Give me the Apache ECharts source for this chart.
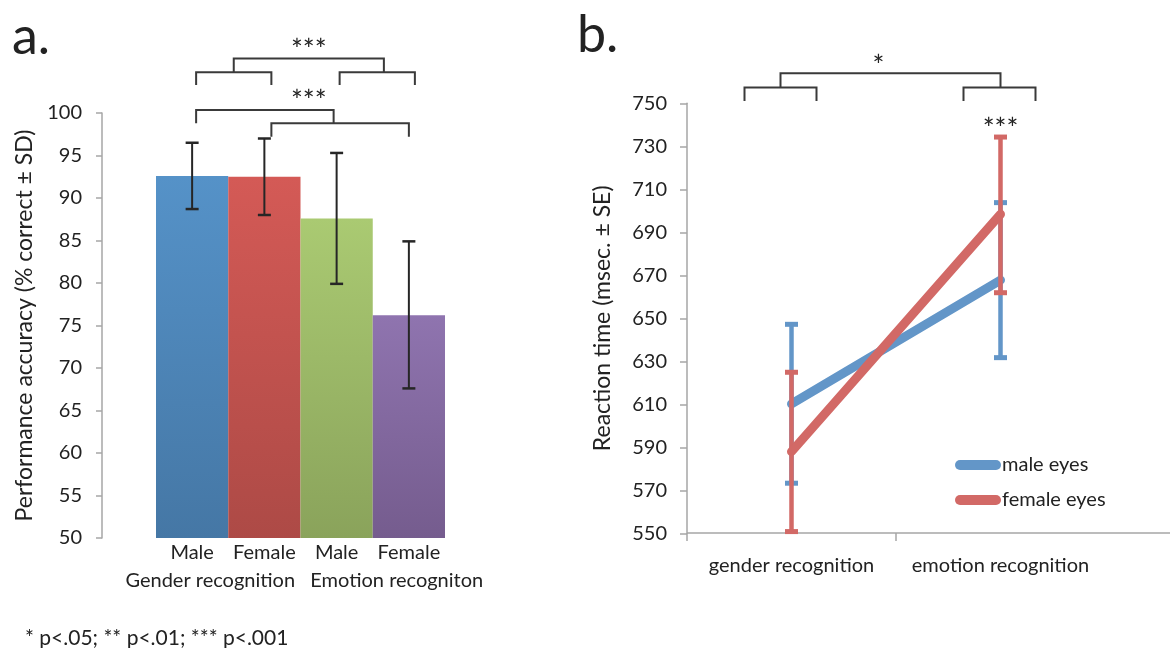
<!DOCTYPE html>
<html>
<head>
<meta charset="utf-8">
<script src="https://cdn.jsdelivr.net/npm/echarts@6/dist/echarts.min.js"></script>
<style>
html,body{margin:0;padding:0;background:#fff;}
#chart{width:1170px;height:648px;}
</style>
</head>
<body>
<div id="chart"></div>
<script>
// ---- Panel a: performance accuracy ----
var accCategories = ['Male', 'Female', 'Male', 'Female'];
var accGroups = ['Gender recognition', 'Emotion recogniton'];
var accMean = [92.6, 92.5, 87.6, 76.2];
var accLow = [88.7, 88.0, 79.9, 67.6];
var accHigh = [96.5, 97.0, 95.3, 84.9];
var accTop = ['#5592C8', '#D45A56', '#AACA72', '#8F74AF'];
var accBottom = ['#4577A5', '#AD4A46', '#8AA35B', '#755C8E'];

// ---- Panel b: reaction time ----
var rtCategories = ['gender recognition', 'emotion recognition'];
var rtMale = [610.2, 667.8];
var rtMaleLow = [573.3, 631.7];
var rtMaleHigh = [647.2, 703.8];
var rtFemale = [588.0, 698.4];
var rtFemaleLow = [550.8, 661.9];
var rtFemaleHigh = [624.9, 734.3];

var FONT = 'Lato';
var TXT = '#222222';
var AXIS = '#A6A6A6';

function errRenderer(color, lw, capW, capLw) {
  return function (params, api) {
    var x = api.value(0);
    var lo = api.coord([x, api.value(1)]);
    var hi = api.coord([x, api.value(2)]);
    var st = {stroke: color, lineWidth: lw};
    var cs = {stroke: color, lineWidth: capLw};
    return {
      type: 'group',
      children: [
        {type: 'line', shape: {x1: hi[0], y1: hi[1], x2: lo[0], y2: lo[1]}, style: st},
        {type: 'line', shape: {x1: hi[0] - capW / 2, y1: hi[1], x2: hi[0] + capW / 2, y2: hi[1]}, style: cs},
        {type: 'line', shape: {x1: lo[0] - capW / 2, y1: lo[1], x2: lo[0] + capW / 2, y2: lo[1]}, style: cs}
      ]
    };
  };
}

var barData = accMean.map(function (v, i) {
  return {
    value: v,
    itemStyle: {
      color: new echarts.graphic.LinearGradient(0, 0, 0, 1, [
        {offset: 0, color: accTop[i]}, {offset: 1, color: accBottom[i]}
      ])
    }
  };
});

var chart = echarts.init(document.getElementById('chart'), null, {renderer: 'canvas'});

var option = {
  animation: false,
  backgroundColor: '#ffffff',
  textStyle: {fontFamily: FONT, color: TXT},
  grid: [
    {left: 156, top: 113, width: 289, height: 425},
    {left: 687, top: 103.3, width: 418, height: 430}
  ],
  xAxis: [
    {
      type: 'category', gridIndex: 0, data: accCategories,
      axisLine: {show: false}, axisTick: {show: false},
      axisLabel: {fontFamily: FONT, fontSize: 20, color: TXT, margin: 5, interval: 0}
    },
    {
      type: 'category', gridIndex: 1, data: rtCategories, boundaryGap: true,
      axisLine: {show: false},
      axisTick: {show: false},
      axisLabel: {fontFamily: FONT, fontSize: 20, color: TXT, margin: 22, interval: 0}
    }
  ],
  yAxis: [
    {
      type: 'value', gridIndex: 0, min: 50, max: 100, interval: 5, offset: 54,
      name: 'Performance accuracy (% correct \u00b1 SD)', nameLocation: 'middle', nameGap: 66,
      nameTextStyle: {fontFamily: FONT, fontSize: 23, color: TXT},
      axisLine: {show: true, lineStyle: {color: AXIS, width: 1.5}},
      axisTick: {show: true, length: 6, lineStyle: {color: AXIS, width: 1.5}},
      axisLabel: {fontFamily: FONT, fontSize: 20, color: TXT, margin: 20},
      splitLine: {show: false}
    },
    {
      type: 'value', gridIndex: 1, min: 550, max: 750, interval: 20,
      name: 'Reaction time (msec. \u00b1 SE)', nameLocation: 'middle', nameGap: 73,
      nameTextStyle: {fontFamily: FONT, fontSize: 23, color: TXT},
      axisLine: {show: true, lineStyle: {color: AXIS, width: 1.5}},
      axisTick: {show: true, length: 7, lineStyle: {color: AXIS, width: 1.5}},
      axisLabel: {fontFamily: FONT, fontSize: 20, color: TXT, margin: 20},
      splitLine: {show: false}
    }
  ],
  legend: {
    orient: 'vertical', left: 950, top: 450, itemWidth: 46, itemHeight: 10, itemGap: 15,
    icon: 'path://M5,0 L41,0 A5,5 0 0 1 41,10 L5,10 A5,5 0 0 1 5,0 Z',
    textStyle: {fontFamily: FONT, fontSize: 20, color: TXT, padding: [0, 0, 0, -4]},
    data: ['male eyes', 'female eyes']
  },
  series: [
    {
      type: 'bar', xAxisIndex: 0, yAxisIndex: 0, data: barData,
      barCategoryGap: '0%', barWidth: '100%'
    },
    {
      type: 'custom', xAxisIndex: 0, yAxisIndex: 0, z: 5,
      renderItem: errRenderer('#262626', 2, 13, 2.5),
      data: accMean.map(function (v, i) { return [i, accLow[i], accHigh[i]]; })
    },
    {
      type: 'custom', xAxisIndex: 1, yAxisIndex: 1, z: 2, clip: false,
      renderItem: errRenderer('#6396C8', 4.5, 13, 5),
      data: rtMale.map(function (v, i) { return [i, rtMaleLow[i], rtMaleHigh[i]]; })
    },
    {
      name: 'male eyes', type: 'line', xAxisIndex: 1, yAxisIndex: 1, z: 3,
      data: rtMale, symbol: 'none', color: '#6396C8',
      lineStyle: {width: 9, color: '#6396C8', cap: 'round'}
    },
    {
      type: 'custom', xAxisIndex: 1, yAxisIndex: 1, z: 4, clip: false,
      renderItem: errRenderer('#D26966', 4.5, 13, 5),
      data: rtFemale.map(function (v, i) { return [i, rtFemaleLow[i], rtFemaleHigh[i]]; })
    },
    {
      name: 'female eyes', type: 'line', xAxisIndex: 1, yAxisIndex: 1, z: 5,
      data: rtFemale, symbol: 'none', color: '#D26966',
      lineStyle: {width: 9, color: '#D26966', cap: 'round'}
    }
  ]
};

chart.setOption(option);

// ---- annotations placed through the axes ----
function pA(i, v) { return chart.convertToPixel({xAxisIndex: 0, yAxisIndex: 0}, [i, v]); }
function pB(i, v) { return chart.convertToPixel({xAxisIndex: 1, yAxisIndex: 1}, [i, v]); }
var BR = {stroke: '#3a3a3a', lineWidth: 2, fill: null};
function poly(pts) { return {type: 'polyline', shape: {points: pts}, style: BR, z: 10}; }
function txt(x, y, s, size, align) {
  return {type: 'text', x: x, y: y, z: 10,
    style: {text: s, fontFamily: FONT, fontSize: size, fill: TXT, align: align || 'center', verticalAlign: 'middle'}};
}

var g = [];
// panel a brackets
var a0 = pA(0, 100), a1 = pA(1, 100), a2 = pA(2, 100), a3 = pA(3, 100);
var yA = function (v) { return pA(0, v)[1]; };
var xL0 = a0[0] + 4, xL1 = a1[0] + 7, xL2 = a2[0] + 3, xL3 = a3[0] + 6;
// upper pair
g.push(poly([[xL0, yA(103.3)], [xL0, yA(104.8)], [xL1, yA(104.8)], [xL1, yA(103.3)]]));
g.push(poly([[xL2, yA(103.3)], [xL2, yA(104.8)], [xL3, yA(104.8)], [xL3, yA(103.3)]]));
var m1 = (xL0 + xL1) / 2, m2 = a3[0] - 25;
g.push(poly([[m1, yA(104.8)], [m1, yA(106.4)], [m2, yA(106.4)], [m2, yA(104.8)]]));
g.push(txt((m1 + m2) / 2, yA(107.35), '***', 28));
// lower pair
var xA1 = a2[0] - 3;
g.push(poly([[xL0, yA(98.8)], [xL0, yA(100.35)], [xA1, yA(100.35)], [xA1, yA(98.8)]]));
g.push(poly([[xL1, yA(97.2)], [xL1, yA(98.8)], [a3[0], yA(98.8)], [a3[0], yA(97.2)]]));
g.push(txt((m1 + m2) / 2, yA(101.25), '***', 28));
// group labels
g.push(txt((a0[0] + a1[0]) / 2 - 18, yA(50) + 43, accGroups[0], 20));
g.push(txt((a2[0] + a3[0]) / 2 + 24, yA(50) + 43, accGroups[1], 20));
// footnote
g.push(txt(25, 638, '* p<.05; ** p<.01; *** p<.001', 21, 'left'));
// panel letters
g.push(txt(12, 37, 'a.', 52, 'left'));
g.push(txt(577, 35, 'b.', 52, 'left'));

// panel b brackets
var b0 = pB(0, 750), b1 = pB(1, 750);
var yB = function (v) { return pB(0, v)[1]; };
var bl0 = b0[0] - 47, bl1 = b0[0] + 25, br0 = b1[0] - 37, br1 = b1[0] + 35;
g.push(poly([[bl0, yB(751.1)], [bl0, yB(757.4)], [bl1, yB(757.4)], [bl1, yB(751.1)]]));
g.push(poly([[br0, yB(751.1)], [br0, yB(757.4)], [br1, yB(757.4)], [br1, yB(751.1)]]));
var n1 = b0[0] - 11, n2 = b1[0];
g.push(poly([[n1, yB(757.4)], [n1, yB(764)], [n2, yB(764)], [n2, yB(757.4)]]));
g.push(txt((n1 + n2) / 2 - 12, yB(767.1), '*', 28));
g.push(txt(b1[0], yB(737.8), '***', 28));
// category axis: line to the panel edge, ticks at the left edge and between categories
var half = (b1[0] - b0[0]) / 2;
var base = Math.round(pB(0, 550)[1]);
[b0[0] - half, b0[0] + half].forEach(function (x) {
  g.push({type: 'line', z: 1, shape: {x1: Math.round(x), y1: base, x2: Math.round(x), y2: base + 8}, style: {stroke: AXIS, lineWidth: 1.5}});
});
g.push({type: 'line', z: 1, shape: {x1: Math.round(b0[0] - half), y1: base, x2: 1170, y2: base},
  style: {stroke: AXIS, lineWidth: 1.5}});

chart.setOption({graphic: g});
</script>
</body>
</html>
